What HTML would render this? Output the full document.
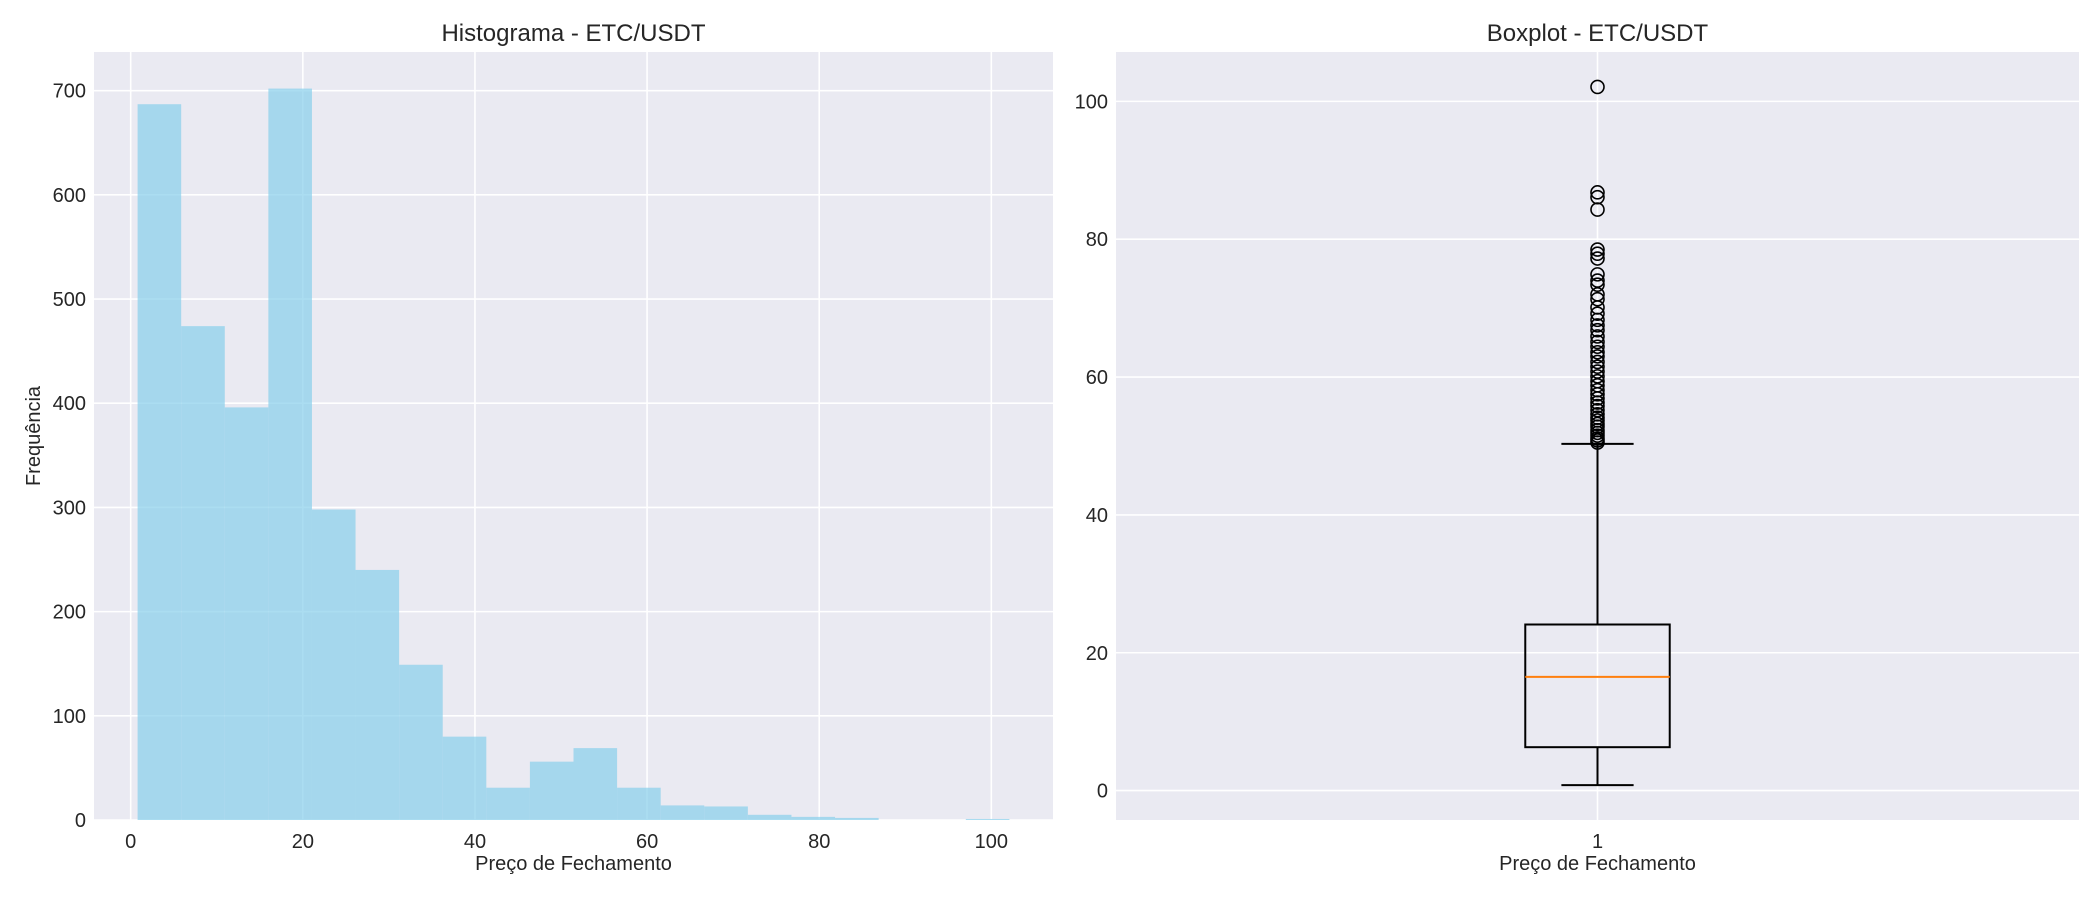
<!DOCTYPE html>
<html><head><meta charset="utf-8">
<style>
html,body{margin:0;padding:0;background:#fff;}
svg{display:block;font-family:"Liberation Sans",Arial,sans-serif;}
</style></head>
<body>
<svg id="fig" width="2100" height="900" viewBox="0 0 2100 900" xmlns="http://www.w3.org/2000/svg">
<g id="hist"></g>
<g id="box"></g>
</svg>
<script>
// Histogram data
const histCounts = [687, 474, 396, 702, 298, 240, 149, 80, 31, 56, 69, 31, 14, 13, 5, 3, 2, 0, 0, 1];
const histMin = 0.8;
const histMax = 102.1;
const histXTicks = [0, 20, 40, 60, 80, 100];
const histYTicks = [0, 100, 200, 300, 400, 500, 600, 700];
// Boxplot data
const boxStats = [0.8, 6.3, 16.5, 24.1, 50.3]; // whisker low, Q1, median, Q3, whisker high
const boxOutliers = [50.5,50.8,51.1,51.5,51.9,52.3,52.8,53.2,53.7,54.1,54.6,55.2,55.8,56.3,56.9,57.5,58.1,58.8,59.4,60.1,60.8,61.5,62.2,63.0,63.6,64.4,65.1,65.9,66.8,67.5,68.3,69.2,70.1,71.3,72.0,73.4,74.0,74.9,77.2,77.9,78.5,84.3,86.1,86.8,102.1];
const boxYTicks = [0, 20, 40, 60, 80, 100];

const NS = "http://www.w3.org/2000/svg";
function mk(parent, tag, attrs, text) {
  const e = document.createElementNS(NS, tag);
  for (const k in attrs) e.setAttribute(k, attrs[k]);
  if (text !== undefined) e.textContent = text;
  parent.appendChild(e);
  return e;
}
const TXT = "#262626";

// ---------- Histogram ----------
(function(){
  const g = document.getElementById('hist');
  const L = 94, R = 1053, T = 52, B = 820;
  const binW = (histMax - histMin) / histCounts.length;
  const xMinD = histMin - 0.05 * (histMax - histMin), xMaxD = histMax + 0.05 * (histMax - histMin);
  const yMaxD = Math.max(...histCounts) * 1.05;
  const xs = v => L + (v - xMinD) / (xMaxD - xMinD) * (R - L);
  const ys = v => B - v / yMaxD * (B - T);
  const bg = mk(g, 'rect', {x:L, y:T, width:R-L, height:B-T, fill:'#eaeaf2'});
  
  
  histXTicks.forEach(t => {
    const l = mk(g, 'line', {x1:xs(t), x2:xs(t), y1:T, y2:B, stroke:'#fff', 'stroke-width':1.6});
    
    
    const tx = mk(g, 'text', {x:xs(t), y:848, 'text-anchor':'middle', 'font-size':20, fill:TXT}, String(t));
    
    
  });
  histYTicks.forEach(t => {
    const l = mk(g, 'line', {x1:L, x2:R, y1:ys(t), y2:ys(t), stroke:'#fff', 'stroke-width':1.6});
    
    
    const tx = mk(g, 'text', {x:L-8, y:ys(t)+7, 'text-anchor':'end', 'font-size':20, fill:TXT}, String(t));
    
    
  });
  histCounts.forEach((c, i) => {
    const x0 = xs(histMin + i * binW), x1 = xs(histMin + (i + 1) * binW);
    const r = mk(g, 'rect', {x:x0, y:ys(c), width:x1 - x0, height:B - ys(c), fill:'#87ceeb', 'fill-opacity':0.7});
    
    
  });
  const title = mk(g, 'text', {x:(L+R)/2, y:41, 'text-anchor':'middle', 'font-size':24, fill:TXT}, 'Histograma - ETC/USDT');
  
  
  const xl = mk(g, 'text', {x:(L+R)/2, y:870, 'text-anchor':'middle', 'font-size':20, fill:TXT}, 'Preço de Fechamento');
  
  
  const yl = mk(g, 'text', {x:40, y:(T+B)/2, 'text-anchor':'middle', 'font-size':20, fill:TXT, transform:'rotate(-90 40 '+((T+B)/2)+')'}, 'Frequência');
  
  
})();

// ---------- Boxplot ----------
(function(){
  const g = document.getElementById('box');
  const L = 1116, R = 2079, T = 52, B = 820;
  const all = boxStats.concat(boxOutliers);
  const dMin = Math.min(...all), dMax = Math.max(...all);
  const yMinD = dMin - 0.05 * (dMax - dMin), yMaxD = dMax + 0.05 * (dMax - dMin);
  const ys = v => B - (v - yMinD) / (yMaxD - yMinD) * (B - T);
  const xs = v => L + (v - 0.5) / 1.0 * (R - L);
  const bg = mk(g, 'rect', {x:L, y:T, width:R-L, height:B-T, fill:'#eaeaf2'});
  
  
  const gx = mk(g, 'line', {x1:xs(1), x2:xs(1), y1:T, y2:B, stroke:'#fff', 'stroke-width':1.6});
  
  
  boxYTicks.forEach(t => {
    const l = mk(g, 'line', {x1:L, x2:R, y1:ys(t), y2:ys(t), stroke:'#fff', 'stroke-width':1.6});
    
    
    const tx = mk(g, 'text', {x:L-8, y:ys(t)+7, 'text-anchor':'end', 'font-size':20, fill:TXT}, String(t));
    
    
  });
  const cx = xs(1), hw = 0.075 * (R - L), cw = 0.0375 * (R - L);
  const [wlo, q1, med, q3, whi] = boxStats;
  const w1 = mk(g, 'line', {x1:cx, x2:cx, y1:ys(q1), y2:ys(wlo), stroke:'#000', 'stroke-width':2});
  
  
  const w2 = mk(g, 'line', {x1:cx, x2:cx, y1:ys(q3), y2:ys(whi), stroke:'#000', 'stroke-width':2});
  
  
  const c1 = mk(g, 'line', {x1:cx-cw, x2:cx+cw, y1:ys(wlo), y2:ys(wlo), stroke:'#000', 'stroke-width':2});
  
  
  const c2 = mk(g, 'line', {x1:cx-cw, x2:cx+cw, y1:ys(whi), y2:ys(whi), stroke:'#000', 'stroke-width':2});
  
  
  const bx = mk(g, 'rect', {x:cx-hw, y:ys(q3), width:2*hw, height:ys(q1)-ys(q3), fill:'none', stroke:'#000', 'stroke-width':2});
  
  
  const md = mk(g, 'line', {x1:cx-hw, x2:cx+hw, y1:ys(med), y2:ys(med), stroke:'#ff7f0e', 'stroke-width':2});
  
  
  boxOutliers.forEach(v => {
    const c = mk(g, 'circle', {cx:cx, cy:ys(v), r:6.5, fill:'none', stroke:'#000', 'stroke-width':1.6});
    
    
  });
  const tk = mk(g, 'text', {x:cx, y:848, 'text-anchor':'middle', 'font-size':20, fill:TXT}, '1');
  
  
  const title = mk(g, 'text', {x:(L+R)/2, y:41, 'text-anchor':'middle', 'font-size':24, fill:TXT}, 'Boxplot - ETC/USDT');
  
  
  const xl = mk(g, 'text', {x:(L+R)/2, y:870, 'text-anchor':'middle', 'font-size':20, fill:TXT}, 'Preço de Fechamento');
  
  
})();
</script>
</body></html>
